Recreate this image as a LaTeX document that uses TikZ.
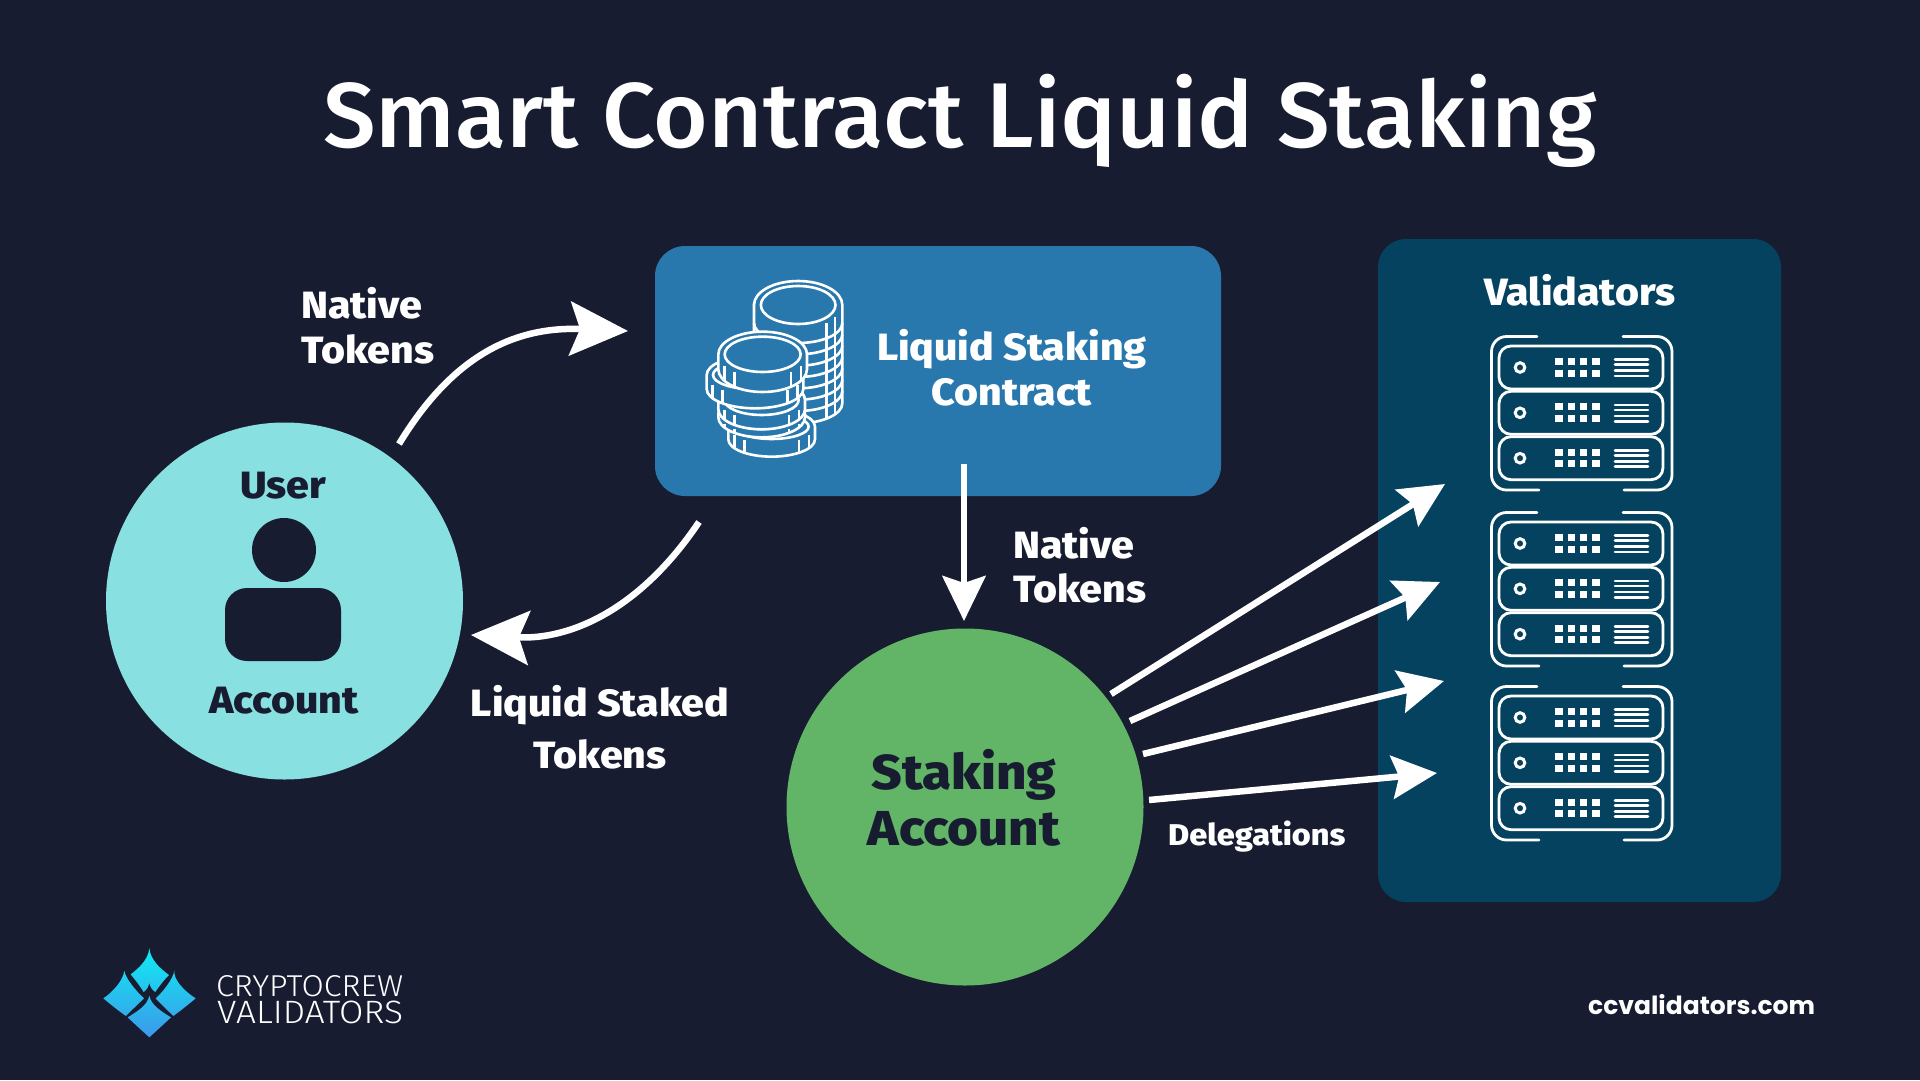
\documentclass[tikz,border=0pt]{standalone}
\usepackage{fontspec}
\usepackage{graphicx}
\usetikzlibrary{arrows.meta}
\setmainfont[FakeStretch=1.02]{Fira Sans Medium}
\newfontfamily\heavyf[FakeStretch=1.08]{Fira Sans ExtraBold}
\newfontfamily\lightf{Fira Sans Light}
\newfontfamily\urlf{Poppins}
\definecolor{bgc}{HTML}{181C30}
\definecolor{contractc}{HTML}{2878AE}
\definecolor{valc}{HTML}{05425F}
\definecolor{userc}{HTML}{88E0E0}
\definecolor{stakec}{HTML}{62B566}
\definecolor{logotop}{HTML}{10ECF2}
\definecolor{logobot}{HTML}{3C98EA}
\newcommand{\fsz}[1]{\fontsize{#1}{#1}\selectfont}
\newcommand{\coinbody}[5]{% cx, cy, rx, ry, h
  \path[coinline,fill=contractc] (#1-#3,#2) -- (#1-#3,#2+#5) arc[start angle=180,end angle=0,x radius=#3,y radius=#4] -- (#1+#3,#2) arc[start angle=0,end angle=-180,x radius=#3,y radius=#4] -- cycle;
  \draw[coinline] (#1,#2) ellipse[x radius=#3-19,y radius=#4-15];
  \draw[coinline] (#1-#3+18,#2+#4*0.5) -- ++(0,#5);
  \draw[coinline] (#1-#3+48,#2+#4*0.77) -- ++(0,#5);
  \draw[coinline] (#1+#3-18,#2+#4*0.5) -- ++(0,#5);
  \draw[coinline] (#1+#3-48,#2+#4*0.77) -- ++(0,#5);
}
\newcommand{\serverrow}[1]{%
  \draw[srvline,rounded corners=12pt] (1499,#1-21.5) rectangle (1663,#1+21.5);
  \draw[line width=3pt,white] (1520,#1) circle[radius=4.8];
  \foreach \sx in {1559,1571.3,1583.7,1596}{
    \fill[white] (\sx-3.7,#1-9.5) rectangle (\sx+3.7,#1-2.5);
    \fill[white] (\sx-3.7,#1+2) rectangle (\sx+3.7,#1+9);
  }
  \foreach \sy in {-8,-3,3,8.5}{
    \draw[white,line width=2.6pt,line cap=round] (1615,#1+\sy) -- (1648,#1+\sy);
  }
}
\newcommand{\serverunit}[1]{%
  \begin{scope}[yshift=-#1 pt]
    \draw[srvline,line cap=round,rounded corners=15pt] (1537,336.5) -- (1491.5,336.5) -- (1491.5,490) -- (1539,490);
    \draw[srvline,line cap=round,rounded corners=15pt] (1623,336.5) -- (1672,336.5) -- (1672,490) -- (1624,490);
    \serverrow{367.5}
    \serverrow{412.8}
    \serverrow{458.2}
  \end{scope}
}
\tikzset{
  lbl/.style={inner sep=0pt,font=\heavyf\fsz{38},text=white},
  dark/.style={inner sep=0pt,text=bgc,font=\heavyf\fsz{38}},
  coinline/.style={draw=white,line width=2.6pt},
  srvline/.style={draw=white,line width=2.8pt},
  flow/.style={draw=white,line width=6.5pt,-{Stealth[length=45pt,width=43pt,inset=7pt]}},
  bigflow/.style={draw=white,line width=6.5pt,-{Stealth[length=58pt,width=54pt,inset=10pt]}},
}
\begin{document}
\begin{tikzpicture}[x=1pt,y=-1pt]
\useasboundingbox (0,0) rectangle (1920,1080);
\fill[bgc] (0,0) rectangle (1920,1080);

\node[inner sep=0pt,text=white,font=\fsz{92}] (title) at (960,121) {Smart Contract Liquid Staking};

% boxes and circles
\node[inner sep=0pt,minimum width=566pt,minimum height=250pt,fill=contractc,rounded corners=30pt] (contract) at (938,371) {};
\node[inner sep=0pt,minimum width=403pt,minimum height=663pt,fill=valc,rounded corners=28pt] (valbox) at (1579.5,570.5) {};
\node[circle,inner sep=0pt,minimum size=357pt,fill=userc] (user) at (284.5,601) {};
\node[circle,inner sep=0pt,minimum size=357pt,fill=stakec] (stake) at (965,807) {};

% user icon
\fill[bgc] (284,550) circle[radius=32];
\fill[bgc,rounded corners=22pt] (225,588) rectangle (341,661);
\node[dark] (usertxt) at (283,486) {User};
\node[dark] (accounttxt) at (284,701) {Account};

% texts
\node[lbl,anchor=west] (n1a) at (301,303) {Native};
\node[lbl,anchor=west] (n1b) at (301,349) {Tokens};
\node[lbl] (lc1) at (1012,349) {Liquid Staking};
\node[lbl] (lc2) at (1012,392) {Contract};
\node[lbl,anchor=west] (n2a) at (1013,543) {Native};
\node[lbl,anchor=west] (n2b) at (1013,588) {Tokens};
\node[lbl] (ls1) at (600,705) {Liquid Staked};
\node[lbl] (ls2) at (600,754) {Tokens};
\node[dark,font=\heavyf\fsz{49}] (st1) at (964,775) {Staking};
\node[dark,font=\heavyf\fsz{49}] (st2) at (964,829) {Account};
\node[lbl] (vt) at (1580,290) {Validators};
\node[lbl,anchor=west,font=\heavyf\fsz{30}] (dl) at (1168,837) {Delegations};
\node[inner sep=0pt,anchor=west,text=white,font=\urlf\bfseries\fsz{25}] (url) at (1588,1004.5) {ccvalidators.com};

% coins
\begin{scope}[shift={(680,260)},x=0.3333pt,y=-0.3333pt]
  \path[coinline,fill=contractc] (222,135) -- (222,430) arc[start angle=180,end angle=0,x radius=132.5,y radius=60] -- (487,135) arc[start angle=0,end angle=-180,x radius=132.5,y radius=72] -- cycle;
  \draw[coinline] (354.5,135) ellipse[x radius=112,y radius=57];
  \foreach \k in {1,...,7}{
    \draw[coinline] (354.5,{155+\k*34}) ++(132.5,0) arc[start angle=0,end angle=180,x radius=132.5,y radius=60];
  }
  \draw[coinline] (440,190) -- (440,478);
  \draw[coinline] (465,170) -- (465,458);
  \coinbody{275}{500}{130}{52}{38}
  \coinbody{245}{462}{130}{60}{10}
  \coinbody{245}{420}{130}{60}{28}
  \coinbody{225}{345}{145}{58}{42}
  \coinbody{248}{283}{133}{68}{45}
\end{scope}

% servers
\serverunit{0}
\serverunit{176}
\serverunit{350}

% connectors
\coordinate (a1s) at (399,444);
\coordinate (a1e) at (628,331);
\coordinate (a2s) at (699,522);
\coordinate (a2e) at (471,635);
\coordinate (a3s) at (964,464);
\coordinate (a3e) at (964,621);
\coordinate (f1s) at (1111,694);
\coordinate (f1e) at (1445,484);
\coordinate (f2s) at (1130,721);
\coordinate (f2e) at (1440,582);
\coordinate (f3s) at (1143,754);
\coordinate (f3e) at (1444,681);
\coordinate (f4s) at (1149,800);
\coordinate (f4e) at (1437,773);
\draw[bigflow] (a1s) .. controls (450,360) and (510,326) .. (a1e);
\draw[bigflow] (a2s) .. controls (640,610) and (570,640) .. (a2e);
\draw[flow] (a3s) -- (a3e);
\draw[flow] (f1s) -- (f1e);
\draw[flow] (f2s) -- (f2e);
\draw[flow] (f3s) -- (f3e);
\draw[flow] (f4s) -- (f4e);

% logo
\begin{scope}[shift={(90,930)},x=0.3333pt,y=-0.3333pt]
  \begin{scope}
    \clip (178,55) .. controls (182,90) and (210,115) .. (237,135) .. controls (222,150) and (208,168) .. (196,186) .. controls (186,180) and (180,170) .. (178,158) .. controls (176,170) and (170,180) .. (161,186) .. controls (150,168) and (136,150) .. (122,133) .. controls (146,115) and (174,90) .. (178,55) -- cycle
    (103,122) .. controls (106,145) and (140,185) .. (162,205) .. controls (145,222) and (125,240) .. (108,258) .. controls (85,242) and (60,222) .. (40,205) .. controls (70,185) and (100,150) .. (103,122) -- cycle
    (253,122) .. controls (250,150) and (285,185) .. (317,205) .. controls (297,222) and (272,242) .. (250,258) .. controls (232,240) and (212,222) .. (197,205) .. controls (220,185) and (250,145) .. (253,122) -- cycle
    (178,197) .. controls (183,225) and (215,245) .. (243,262) .. controls (222,282) and (200,302) .. (178,322) .. controls (156,302) and (134,282) .. (113,262) .. controls (141,245) and (173,225) .. (178,197) -- cycle;
    \shade[top color=logotop,bottom color=logobot] (30,50) rectangle (330,325);
  \end{scope}
\end{scope}
\node[inner sep=0pt,anchor=north west,text=white] (lg1) at (216,975) {\resizebox{187pt}{21pt}{\lightf CRYPTOCREW}};
\node[inner sep=0pt,anchor=north west,text=white] (lg2) at (217,1000.5) {\resizebox{186pt}{22.5pt}{\lightf VALIDATORS}};
\end{tikzpicture}
\end{document}
